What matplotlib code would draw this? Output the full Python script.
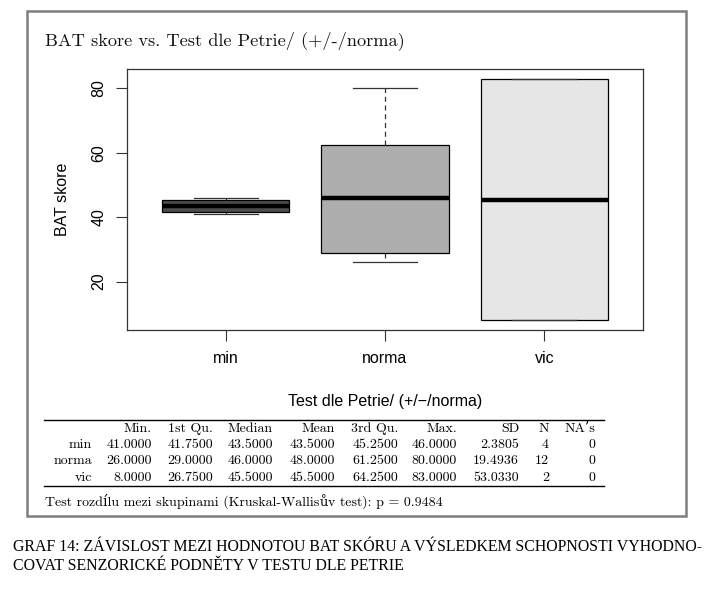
import matplotlib
matplotlib.use("Agg")
import matplotlib.pyplot as plt
from matplotlib.patches import Rectangle
from matplotlib.lines import Line2D

# ---- data ----
groups = ["min", "norma", "vic"]
whis_lo = [41.0, 26.0, 8.0]
hinge_lo = [41.5, 29.0, 8.0]
medians = [43.5, 46.0, 45.5]
hinge_hi = [45.5, 62.5, 83.0]
whis_hi = [46.0, 80.0, 83.0]
box_colors = ["#4D4D4D", "#AEAEAE", "#E6E6E6"]
y_ticks = [20, 40, 60, 80]

title = "BAT skore vs. Test dle Petrie/ (+/-/norma)"
x_label = "Test dle Petrie/ (+/\u2212/norma)"
y_label = "BAT skore"

table_cols = ["Min.", "1st Qu.", "Median", "Mean", "3rd Qu.", "Max.", "SD", "N", "NA\u2019s"]
table_rows = {
    "min":   ["41.0000", "41.7500", "43.5000", "43.5000", "45.2500", "46.0000", "2.3805", "4", "0"],
    "norma": ["26.0000", "29.0000", "46.0000", "48.0000", "61.2500", "80.0000", "19.4936", "12", "0"],
    "vic":   ["8.0000", "26.7500", "45.5000", "45.5000", "64.2500", "83.0000", "53.0330", "2", "0"],
}
footer_parts = ["Test rozdílu mezi skupinami (Kruskal-Wallis", "ů", "v test): p = 0.9484"]
caption1 = "GRAF 14: ZÁVISLOST MEZI HODNOTOU BAT SKÓRU A VÝSLEDKEM SCHOPNOSTI VYHODNO-"
caption2 = "COVAT SENZORICKÉ PODNĚTY V TESTU DLE PETRIE"

W, H = 713, 595
def fx(px): return px / W
def fy(py): return 1 - py / H

fig = plt.figure(figsize=(W / 100, H / 100), dpi=100)
fig.patch.set_facecolor("white")

# outer frame
fig.patches.append(Rectangle((fx(27), fy(516)), fx(686) - fx(27), fy(11) - fy(516),
                             transform=fig.transFigure, fill=False,
                             edgecolor="#7f7f7f", lw=1.8))

serif = ["cmr10", "DejaVu Serif"]
sans = ["Liberation Sans", "DejaVu Sans"]

fig.text(fx(45), fy(41), title, family=serif, fontsize=13.2, va="center", ha="left", color="#111111")

ax = fig.add_axes([fx(127), fy(330), fx(643) - fx(127), fy(69) - fy(330)])
stats = []
for i, g in enumerate(groups):
    stats.append(dict(label=g, whislo=whis_lo[i], q1=hinge_lo[i], med=medians[i],
                      q3=hinge_hi[i], whishi=whis_hi[i], fliers=[]))
pos = list(range(1, len(groups) + 1))
bp = ax.bxp(stats, positions=pos, widths=0.8, patch_artist=True, showfliers=False,
            boxprops=dict(edgecolor="black", linewidth=0.9),
            medianprops=dict(color="black", linewidth=3.2, solid_capstyle="butt"),
            whiskerprops=dict(color="#333333", linewidth=0.9, linestyle=(0, (4, 3))),
            capprops=dict(color="#333333", linewidth=0.9),
            capwidths=0.4)
for patch, c in zip(bp["boxes"], box_colors):
    patch.set_facecolor(c)
    patch.set_zorder(2)
for m in bp["medians"]:
    m.set_zorder(3)

ax.set_xlim(0.38, 3.62)
ax.set_ylim(5.0, 86.0)
ax.set_yticks(y_ticks)
ax.set_yticklabels([str(t) for t in y_ticks], rotation=90, va="center", family=sans, fontsize=11.5)
ax.set_xticks(pos)
ax.set_xticklabels(groups, family=sans, fontsize=11.5)
ax.tick_params(axis="y", length=8, pad=7, color="#333333")
ax.tick_params(axis="x", length=8, pad=7, color="#333333")
for s in ax.spines.values():
    s.set_color("#333333")
    s.set_linewidth(0.9)
ax.set_ylabel(y_label, family=sans, fontsize=11.5, labelpad=15)
ax.set_xlabel(x_label, family=sans, fontsize=11.5, labelpad=20)

# table
tfs = 10.0
rule_l, rule_r = fx(44), fx(604)
for ypx, lw in [(420, 1.0), (486, 1.0)]:
    fig.add_artist(Line2D([rule_l, rule_r], [fy(ypx), fy(ypx)], transform=fig.transFigure,
                          color="black", lw=lw))
label_right = 92
col_right = [152, 213, 273, 335, 398, 457, 519, 549, 595]
for c, xr in zip(table_cols, col_right):
    fig.text(fx(xr), fy(432), c, family=serif, fontsize=tfs, ha="right", va="baseline")
for r, ypx in zip(groups, [448, 464, 481]):
    fig.text(fx(label_right), fy(ypx), r, family=serif, fontsize=tfs, ha="right", va="baseline")
    for v, xr in zip(table_rows[r], col_right):
        fig.text(fx(xr), fy(ypx), v, family=serif, fontsize=tfs, ha="right", va="baseline")

# footer, placed piece by piece so the ů can use a fallback font
fig.canvas.draw()
renderer = fig.canvas.get_renderer()
xcur = 45
fams = [serif, ["DejaVu Serif"], serif]
sizes = [tfs, tfs * 0.93, tfs]
for part, fam, sz in zip(footer_parts, fams, sizes):
    t = fig.text(fx(xcur), fy(506), part, family=fam, fontsize=sz, ha="left", va="baseline")
    bb = t.get_window_extent(renderer)
    xcur += bb.width

# caption
cap_font = ["Liberation Serif", "DejaVu Serif"]
fig.text(fx(13), fy(547), caption1, family=cap_font, fontsize=11.4, ha="left", va="center")
fig.text(fx(13), fy(566), caption2, family=cap_font, fontsize=11.4, ha="left", va="center")

fig.savefig("out.png", dpi=100)
